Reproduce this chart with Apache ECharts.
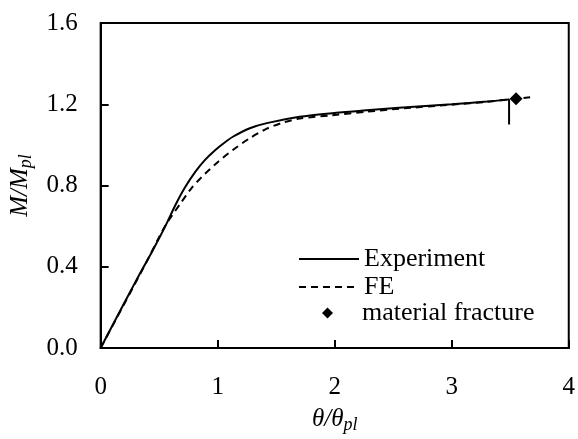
<!DOCTYPE html>
<html>
<head>
<meta charset="utf-8">
<script src="https://cdn.jsdelivr.net/npm/echarts@6/dist/echarts.min.js"></script>
<style>
  html, body { margin: 0; padding: 0; background: #fff; }
  #chart { width: 578px; height: 439px; }
</style>
</head>
<body>
<div id="chart"></div>
<script>
// Normalised rotation θ/θpl and moment M/Mpl
const experimentTheta = [0, 0.32, 0.44, 0.553, 0.64, 0.72, 0.81, 0.89, 0.98, 1.06, 1.13, 1.28, 1.42, 1.70, 1.98, 2.27, 2.55, 3.0, 3.3, 3.49, 3.49];
const experimentM     = [0, 0.35, 0.475, 0.60, 0.705, 0.79, 0.868, 0.925, 0.975, 1.012, 1.04, 1.083, 1.107, 1.138, 1.156, 1.17, 1.183, 1.20, 1.213, 1.224, 1.10];

const feTheta = [0, 0.38, 0.55, 0.68, 0.78, 0.89, 1.0, 1.13, 1.28, 1.42, 1.56, 1.7, 1.98, 2.27, 2.55, 3.0, 3.3, 3.55, 3.67];
const feM     = [0, 0.41, 0.60, 0.71, 0.79, 0.857, 0.915, 0.975, 1.035, 1.08, 1.11, 1.13, 1.146, 1.163, 1.178, 1.198, 1.212, 1.227, 1.235];

const fractureTheta = [3.55];
const fractureM     = [1.227];

const xTicks = [0, 1, 2, 3, 4];
const yTicks = [0.0, 0.4, 0.8, 1.2, 1.6];

const zip = (a, b) => a.map((v, i) => [v, b[i]]);
const FONT = "'Liberation Serif', 'Times New Roman', serif";
const nameRich = {
  i: { fontFamily: FONT, fontStyle: 'italic', fontSize: 25, color: '#000' },
  s: { fontFamily: FONT, fontStyle: 'italic', fontSize: 18, color: '#000', verticalAlign: 'bottom', padding: [12, 0, 0, 0] }
};
const hiddenSymbol = { color: 'rgba(0,0,0,0)', opacity: 0, borderWidth: 0 };

const chart = echarts.init(document.getElementById('chart'), null, { renderer: 'canvas' });
chart.setOption({
  animation: false,
  backgroundColor: '#fff',
  textStyle: { fontFamily: FONT, color: '#000' },
  grid: {
    left: 100, right: 8, top: 23, bottom: 84,
    show: true, borderColor: '#000', borderWidth: 2, backgroundColor: 'transparent'
  },
  legend: [
    {
      orient: 'vertical',
      left: 298, top: 246,
      padding: 0,
      itemGap: 2,
      itemWidth: 60, itemHeight: 12,
      textStyle: { fontFamily: FONT, fontSize: 26, color: '#000' },
      data: [
        { name: 'Experiment', itemStyle: hiddenSymbol },
        { name: 'FE', itemStyle: hiddenSymbol }
      ]
    },
    {
      orient: 'vertical',
      left: 322, top: 300,
      padding: 0,
      itemWidth: 11, itemHeight: 11,
      textStyle: { fontFamily: FONT, fontSize: 26, color: '#000', padding: [0, 0, 0, 24] },
      data: [{ name: 'material fracture', icon: 'diamond', itemStyle: { color: '#000', opacity: 1 } }]
    }
  ],
  xAxis: {
    type: 'value',
    min: xTicks[0], max: xTicks[xTicks.length - 1], interval: 1,
    axisLine: { lineStyle: { color: '#000', width: 2 } },
    axisTick: { inside: true, length: 8, lineStyle: { color: '#000', width: 2 } },
    splitLine: { show: false },
    axisLabel: { fontFamily: FONT, fontSize: 25, color: '#000', margin: 27 },
    name: '{i|θ/θ}{s|pl}',
    nameLocation: 'middle',
    nameGap: 56,
    nameTextStyle: { rich: nameRich }
  },
  yAxis: {
    type: 'value',
    min: yTicks[0], max: yTicks[yTicks.length - 1], interval: 0.4,
    axisLine: { lineStyle: { color: '#000', width: 2 } },
    axisTick: { inside: true, length: 8, lineStyle: { color: '#000', width: 2 } },
    splitLine: { show: false },
    axisLabel: { fontFamily: FONT, fontSize: 25, color: '#000', margin: 23, formatter: v => v.toFixed(1) },
    name: '{i|M/M}{s|pl}',
    nameLocation: 'middle',
    nameRotate: 90,
    nameGap: 58,
    nameTextStyle: { rich: nameRich }
  },
  series: [
    {
      name: 'Experiment',
      type: 'line',
      data: zip(experimentTheta, experimentM),
      showSymbol: false, symbol: 'none',
      smooth: 0.25,
      lineStyle: { color: '#000', width: 2 },
      itemStyle: { color: '#000' },
      z: 3
    },
    {
      name: 'FE',
      type: 'line',
      data: zip(feTheta, feM),
      showSymbol: false, symbol: 'none',
      smooth: 0.25,
      lineStyle: { color: '#000', width: 2, type: [7, 5] },
      itemStyle: { color: '#000' },
      z: 2
    },
    {
      name: 'material fracture',
      type: 'scatter',
      data: zip(fractureTheta, fractureM),
      symbol: 'diamond',
      symbolSize: 13,
      itemStyle: { color: '#000', opacity: 1 },
      z: 4
    }
  ]
});
</script>
</body>
</html>
